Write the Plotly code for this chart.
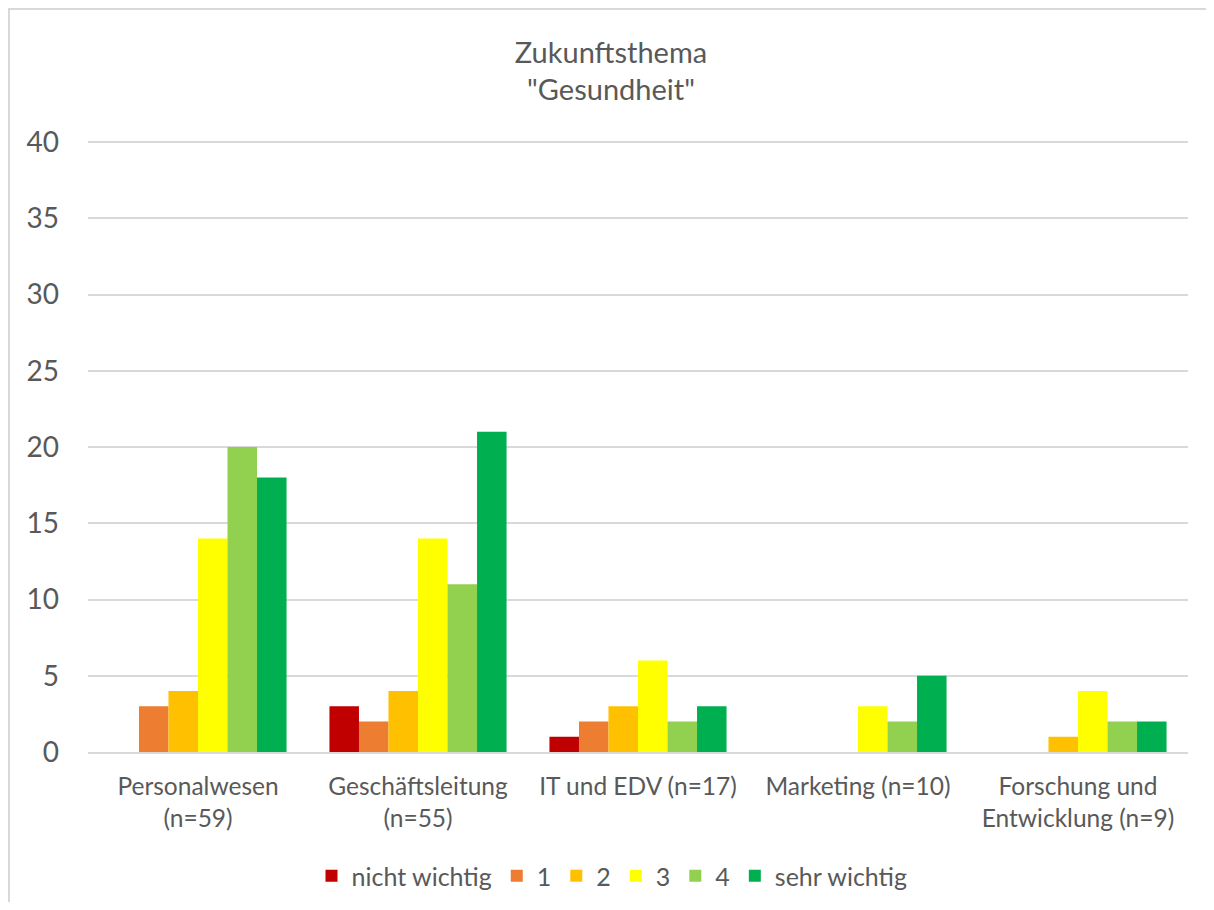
import plotly.graph_objects as go

categories = ["Personalwesen<br>(n=59)", "Geschäftsleitung<br>(n=55)", "IT und EDV (n=17)",
              "Marketing (n=10)", "Forschung und<br>Entwicklung (n=9)"]
series_names = ["nicht wichtig", "1", "2", "3", "4", "sehr wichtig"]
nicht_wichtig = [0, 3, 1, 0, 0]
s1 = [3, 2, 2, 0, 0]
s2 = [4, 4, 3, 0, 1]
s3 = [14, 14, 6, 3, 4]
s4 = [20, 11, 2, 2, 2]
sehr_wichtig = [18, 21, 3, 5, 2]
colors = ["#C00000", "#ED7D31", "#FFC000", "#FFFF00", "#92D050", "#00B050"]
y_ticks = [0, 5, 10, 15, 20, 25, 30, 35, 40]

values = [nicht_wichtig, s1, s2, s3, s4, sehr_wichtig]

FONT = "Lato, 'Open Sans', sans-serif"
TXT = "#595959"

fig = go.Figure()
for name, vals, col in zip(series_names, values, colors):
    fig.add_trace(go.Bar(x=categories, y=vals, name=name,
                         marker=dict(color=col, line=dict(width=0))))

# page has an 8px body margin; figure coordinates = page - 8
O = 8
W, H = 1214 - 2 * O, 910 - 2 * O
L = 88 - O
T = 140 - O
R = W - (1188 - O)
B = H - (752 - O)
pw, ph = W - L - R, H - T - B

fig.update_layout(
    width=W, height=H,
    margin=dict(l=L, r=R, t=T, b=B, pad=0, autoexpand=False),
    paper_bgcolor="white", plot_bgcolor="white",
    barmode="group", bargap=0.195, bargroupgap=0,
    font=dict(family=FONT, color=TXT, size=24),
    title=dict(text="Zukunftsthema<br>\"Gesundheit\"", x=(611 - O) / W, xanchor="center",
               y=1 - 54.5 / H, yanchor="middle", yref="container",
               font=dict(size=29, color=TXT, family=FONT)),
    legend=dict(orientation="h", x=(612 - 88) / pw, xanchor="center",
                y=-(876 - 752) / ph, yanchor="middle",
                font=dict(size=25, color=TXT), itemsizing="constant",
                traceorder="normal", bgcolor="rgba(0,0,0,0)"),
    xaxis=dict(showgrid=False, showline=True, linecolor="#D9D9D9", linewidth=1.5,
               ticks="", tickfont=dict(size=24.5, color=TXT), ticklabelstandoff=12,
               automargin=False),
    yaxis=dict(range=[0, 40 * 612 / 610], tickvals=y_ticks, showgrid=True, gridcolor="#D9D9D9",
               gridwidth=1.5, zeroline=False, showline=False, ticks="",
               tickfont=dict(size=28, color=TXT), ticklabelstandoff=28, automargin=False),
    shapes=[
        dict(type="line", xref="paper", yref="paper",
             x0=(1 - L) / pw, x1=(1 - L) / pw, y0=(H - B - 0) / ph, y1=-(B + 10) / ph,
             line=dict(color="#D9D9D9", width=2)),
        dict(type="line", xref="paper", yref="paper",
             x0=(0 - L) / pw, x1=(W + 10 - L) / pw, y0=(H - B - 1) / ph, y1=(H - B - 1) / ph,
             line=dict(color="#D9D9D9", width=2)),
    ],
)

fig.write_html("out.html")
